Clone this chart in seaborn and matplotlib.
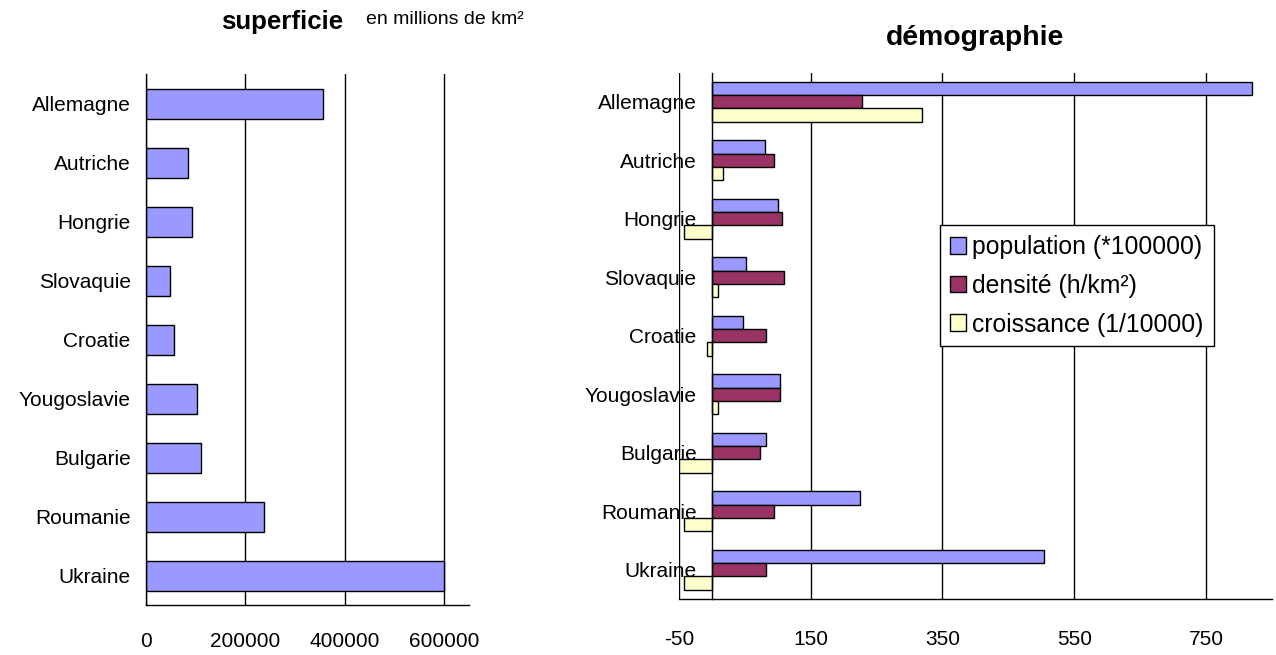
import numpy as np
import pandas as pd
import matplotlib.pyplot as plt
import seaborn as sns

# donnees
pays = ['Allemagne', 'Autriche', 'Hongrie', 'Slovaquie', 'Croatie',
        'Yougoslavie', 'Bulgarie', 'Roumanie', 'Ukraine']
superficie = [357000, 83900, 93000, 49000, 56600, 102200, 111000, 238400, 600000]
population = [819, 80, 101, 52, 47, 104, 83, 225, 504]
densite = [228, 95, 107, 110, 83, 104, 73, 95, 83]
croissance = [319, 17, -42, 10, -8, 10, -50, -42, -42]
series = ['population (*100000)', 'densité (h/km²)', 'croissance (1/10000)']
couleurs = ['#9999FF', '#993366', '#FFFFCC']

sns.set_style('white')
plt.rcParams['font.family'] = ['Liberation Sans', 'DejaVu Sans']
plt.rcParams['axes.unicode_minus'] = False
for k in ['text.color', 'axes.labelcolor', 'xtick.color', 'ytick.color',
          'xtick.labelcolor', 'ytick.labelcolor']:
    plt.rcParams[k] = 'black'

fig = plt.figure(figsize=(12.76, 6.55), dpi=100)
ax1 = fig.add_axes([0.1144, 0.0756, 0.2531, 0.8107])
ax2 = fig.add_axes([0.532, 0.0855, 0.4649, 0.8038])

# superficie
df1 = pd.DataFrame({'pays': pays, 'superficie': superficie})
sns.barplot(data=df1, x='superficie', y='pays', color=couleurs[0], saturation=1,
            edgecolor='black', linewidth=1, width=0.5, errorbar=None, ax=ax1)

# demographie
df2 = pd.DataFrame({'pays': pays, series[0]: population,
                    series[1]: densite, series[2]: croissance})
df2 = df2.melt(id_vars='pays', var_name='serie', value_name='valeur')
sns.barplot(data=df2, x='valeur', y='pays', hue='serie', hue_order=series,
            palette=couleurs, saturation=1, edgecolor='black', linewidth=1,
            width=0.68, errorbar=None, ax=ax2)


def style_axe(ax, xticks, xlim, xpad):
    ax.set_xlim(*xlim)
    ax.set_xticks(xticks)
    ax.set_ylim(len(pays) - 0.5, -0.5)
    ax.set_xlabel('')
    ax.set_ylabel('')
    ax.set_axisbelow(True)
    ax.grid(axis='x', color='black', linewidth=1)
    ax.grid(axis='y', visible=False)
    for s in ['top', 'right']:
        ax.spines[s].set_visible(False)
    for s in ['left', 'bottom']:
        ax.spines[s].set_color('black')
        ax.spines[s].set_linewidth(1)
    ax.set_yticks(np.arange(-0.5, len(pays), 1), minor=True)
    ax.tick_params(axis='y', which='major', length=0, pad=11, labelsize=15)
    ax.tick_params(axis='y', which='minor', length=6, width=1, color='black',
                   direction='out')
    ax.tick_params(axis='x', length=6, width=1, color='black', direction='out',
                   pad=xpad, labelsize=15)


style_axe(ax1, [0, 200000, 400000, 600000], (0, 650000), 13)
ax1.set_xticklabels(['0', '200000', '400000', '600000'])

style_axe(ax2, [-50, 150, 350, 550, 750], (-50, 850), 16)
ax2.spines['left'].set_position(('data', 0))

h, l = ax2.get_legend_handles_labels()
leg = ax2.legend(h, l, loc='upper left', bbox_to_anchor=(940 / 1276, 1 - 225 / 655),
                 bbox_transform=fig.transFigure, frameon=True, fancybox=False,
                 edgecolor='black', framealpha=1, fontsize=17.8,
                 handlelength=0.67, handleheight=0.67, handletextpad=0.24,
                 labelspacing=0.6, borderaxespad=0, borderpad=0.4)
leg.get_frame().set_linewidth(1)

fig.text(282 / 1276, 1 - 22 / 655, 'superficie', ha='center', va='center',
         weight='bold', size=18.6)
fig.text(366 / 1276, 1 - 20 / 655, 'en millions de km²', ha='left',
         va='center', size=14)
fig.text(975 / 1276, 1 - 38 / 655, 'démographie', ha='center', va='center',
         weight='bold', size=20.4)

fig.savefig('out.png', dpi=100)
